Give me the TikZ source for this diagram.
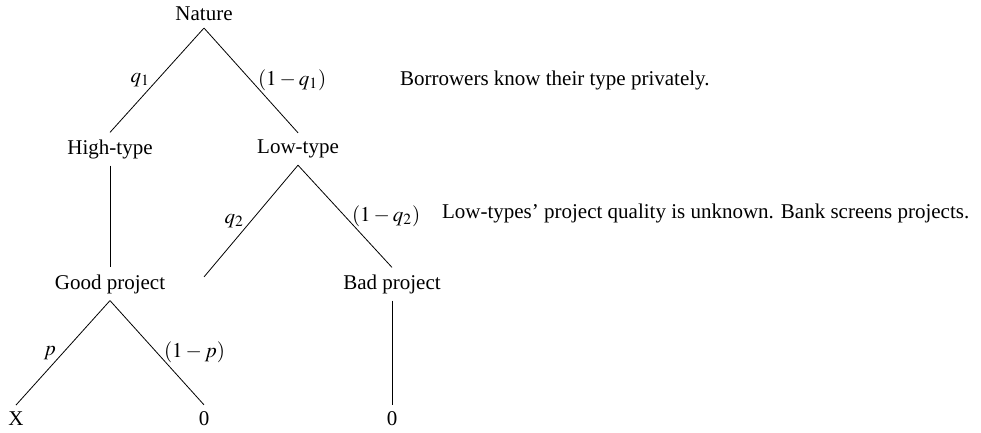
\documentclass[tikz,border=0pt]{standalone}
\usepackage{mathptmx}
\usepackage{fontspec}
\setmainfont{Liberation Serif}
\begin{document}
\begin{tikzpicture}[x=0.5pt,y=-0.5pt,
  every node/.style={font=\fontsize{10.5}{12.6}\selectfont},
  branch/.style={draw=black,line width=0.4pt},
  note/.style={anchor=west}]
\useasboundingbox (0,0) rectangle (981,433);
% nodes
\node (nature) at (204,14) {Nature};
\node (high) at (110,149) {High-type};
\node (low) at (298,149) {Low-type};
\node (good) at (110,284) {Good project};
\node (lowq) at (204,284) {};
\node (bad) at (392,284) {Bad project};
\node (x) at (16,419) {X};
\node (zeroa) at (204,419) {0};
\node (zerob) at (392,419) {0};
% branches
\draw[branch] (nature.south) -- node[left] {$q_1$} (high.north);
\draw[branch] (nature.south) -- node[right] {$(1-q_1)$} (low.north);
\draw[branch] (high.south) -- (good.north);
\draw[branch] (low.south) -- node[left] {$q_2$} (lowq.north);
\draw[branch] (low.south) -- node[right] (lq2) {$(1-q_2)$} (bad.north);
\draw[branch] (good.south) -- node[left] {$p$} (x.north);
\draw[branch] (good.south) -- node[right] {$(1-p)$} (zeroa.north);
\draw[branch] (bad.south) -- (zerob.north);
% notes
\node[note] (n1) at (393,80) {Borrowers know their type privately.};
\node[note] (n2) at (435,213) {Low-types' project quality is unknown. Bank screens projects.};
\end{tikzpicture}
\end{document}
